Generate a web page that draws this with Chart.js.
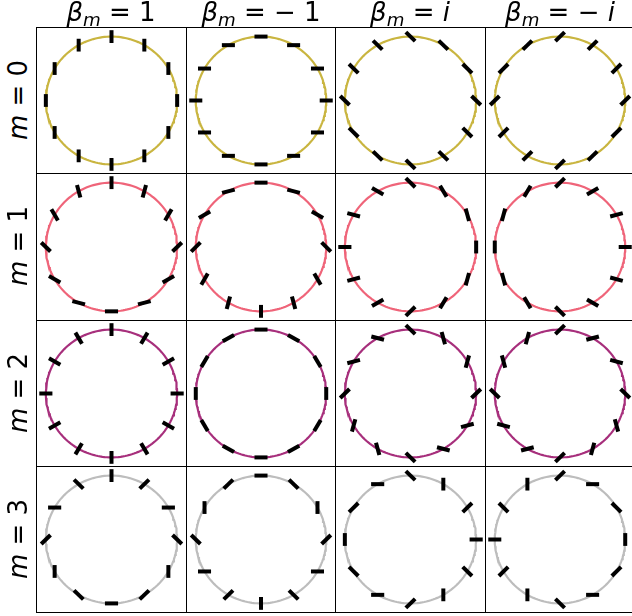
<!DOCTYPE html>
<html>
<head>
<meta charset="utf-8">
<script src="https://cdn.jsdelivr.net/npm/chart.js@4"></script>
<style>
body { margin: 0; background: #fff; }
#fig { position: relative; width: 632px; height: 616px; overflow: hidden; font-family: "DejaVu Sans", sans-serif; color: #000; }
.panel { position: absolute; }
.collab { position: absolute; top: -2px; width: 150px; text-align: center; font-size: 26px; line-height: 28px; white-space: nowrap; }
.rowlab { position: absolute; width: 146px; height: 30px; text-align: center; font-size: 26px; line-height: 30px; white-space: nowrap; transform: rotate(-90deg); }
sub { font-size: 0.7em; vertical-align: -0.3em; line-height: 0; }
</style>
</head>
<body>
<div id="fig"></div>
<script>

// columns: beta_m values, and how far each one turns the ticks (degrees)
var betaLabels = ['1', '\u2212 1', 'i', '\u2212 i'];
var betaRotation = [0, 90, 45, -45];

// rows: m values and ring colours
var mLabels = ['0', '1', '2', '3'];
var ringColors = ['#c9b540', '#ef6479', '#a72f7c', '#bdbdbd'];

// 12 tick positions around the ring (degrees, counter-clockwise from 3 o'clock)
var positionDeg = [0, 30, 60, 90, 120, 150, 180, 210, 240, 270, 300, 330];

// tick direction at each position for beta_m = 1 (degrees)
var tickAngleM0 = [90, 90, 90, 90, 90, 90, 90, 90, 90, 90, 90, 90];
var tickAngleM1 = [45, 60, 75, 90, 105, 120, 135, 150, 165, 0, 15, 30];
var tickAngleM2 = [0, 30, 60, 90, 120, 150, 0, 30, 60, 90, 120, 150];
var tickAngleM3 = [135, 0, 45, 90, 135, 0, 45, 90, 135, 0, 45, 90];
var tickAngles = [tickAngleM0, tickAngleM1, tickAngleM2, tickAngleM3];

var tickHalf = 0.1;
var lim = 1.15;

var gridLeft = 36, gridTop = 27, cellW = 149.5, cellH = 146.3;

var fig = document.getElementById('fig');

var framePlugin = {
    id: 'frame',
    afterDraw: function(chart) {
        var ctx = chart.ctx;
        ctx.save();
        ctx.strokeStyle = '#000';
        ctx.lineWidth = 1;
        ctx.strokeRect(0.5, 0.5, chart.width - 1, chart.height - 1);
        ctx.restore();
    }
};

var ring = [];
for (var a = 0; a <= 180; a++) {
    var t = a / 180 * 2 * Math.PI;
    ring.push({x: Math.cos(t), y: Math.sin(t)});
}

function makePanel(row, col) {
    var left = Math.round(gridLeft + col * cellW);
    var top = Math.round(gridTop + row * cellH);
    var w = Math.round(gridLeft + (col + 1) * cellW) - left + 1;
    var h = Math.round(gridTop + (row + 1) * cellH) - top + 1;

    var canvas = document.createElement('canvas');
    canvas.className = 'panel';
    canvas.width = w;
    canvas.height = h;
    canvas.style.left = left + 'px';
    canvas.style.top = top + 'px';
    canvas.style.width = w + 'px';
    canvas.style.height = h + 'px';
    fig.appendChild(canvas);

    var datasets = [];
    var angles = tickAngles[row];
    for (var k = 0; k < positionDeg.length; k++) {
        var phi = positionDeg[k] * Math.PI / 180;
        var psi = (angles[k] + betaRotation[col]) * Math.PI / 180;
        var cx = Math.cos(phi), cy = Math.sin(phi);
        datasets.push({
            data: [
                {x: cx - tickHalf * Math.cos(psi), y: cy - tickHalf * Math.sin(psi)},
                {x: cx + tickHalf * Math.cos(psi), y: cy + tickHalf * Math.sin(psi)}
            ],
            borderColor: '#000',
            borderWidth: 4,
            borderCapStyle: 'butt',
            showLine: true,
            pointRadius: 0,
            order: 0
        });
    }
    datasets.push({
        data: ring,
        borderColor: ringColors[row],
        borderWidth: 2.2,
        showLine: true,
        pointRadius: 0,
        order: 1
    });

    new Chart(canvas, {
        type: 'scatter',
        data: {datasets: datasets},
        options: {
            responsive: false,
            animation: false,
            devicePixelRatio: 1,
            events: [],
            layout: {padding: 0},
            scales: {
                x: {display: false, min: -lim, max: lim},
                y: {display: false, min: -lim, max: lim}
            },
            plugins: {legend: {display: false}, tooltip: {enabled: false}}
        },
        plugins: [framePlugin]
    });
}

for (var r = 0; r < mLabels.length; r++) {
    for (var c = 0; c < betaLabels.length; c++) {
        makePanel(r, c);
    }
}

// column titles
for (var c = 0; c < betaLabels.length; c++) {
    var d = document.createElement('div');
    d.className = 'collab';
    d.style.left = Math.round(gridLeft + c * cellW) + 'px';
    var val = betaLabels[c].replace('i', '<i>i</i>');
    d.innerHTML = '<i>\u03b2</i><sub><i>m</i></sub> = ' + val;
    fig.appendChild(d);
}

// row titles
for (var r = 0; r < mLabels.length; r++) {
    var d = document.createElement('div');
    d.className = 'rowlab';
    var cy = gridTop + (r + 0.5) * cellH;
    d.style.left = (18 - 73) + 'px';
    d.style.top = Math.round(cy - 15) + 'px';
    d.innerHTML = '<i>m</i> = ' + mLabels[r];
    fig.appendChild(d);
}
</script>
</body>
</html>
